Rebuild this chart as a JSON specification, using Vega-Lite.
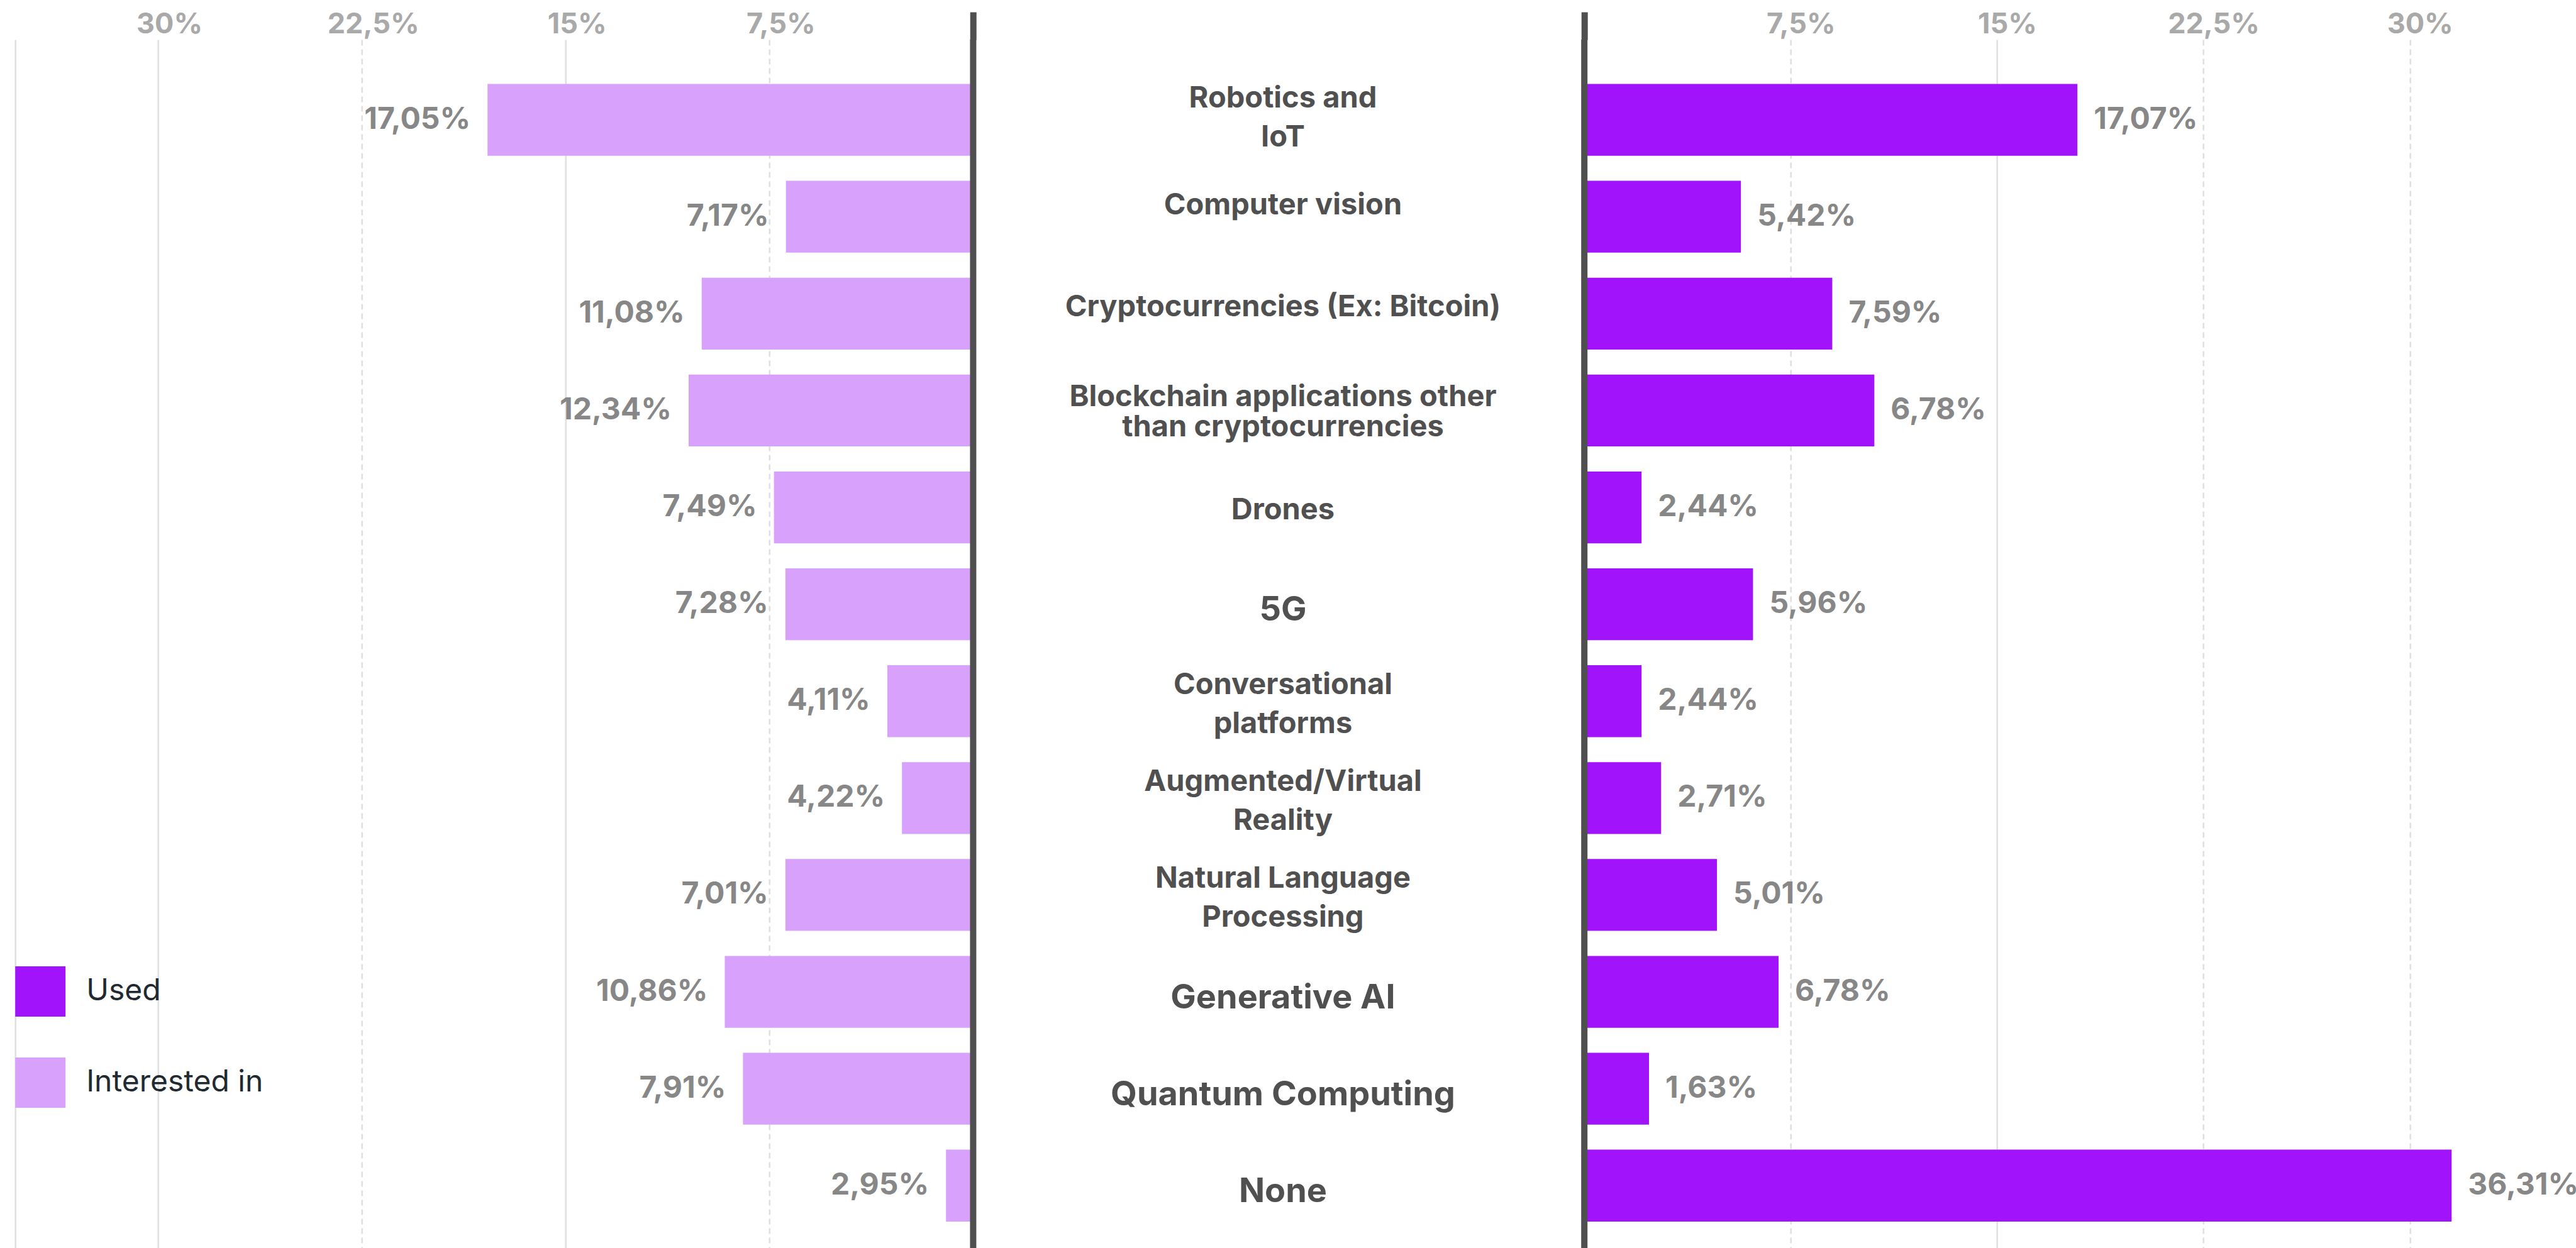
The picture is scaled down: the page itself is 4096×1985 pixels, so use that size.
{
  "$schema": "https://vega.github.io/schema/vega-lite/v6.json",
  "background": "white",
  "padding": {"left": 24.2, "top": 14, "right": 0, "bottom": 0},
  "spacing": 0,
  "bounds": "full",
  "config": {
    "view": {"stroke": null},
    "font": "Inter",
    "locale": {"number": {"decimal": ",", "thousands": ".", "grouping": [3], "currency": ["", "%"]}}
  },
  "resolve": {"scale": {"color": "independent", "x": "independent", "y": "independent"}},
  "data": {
    "values": [
      {"tech": "Robotics and\nIoT", "interested": 17.05, "used": 17.07, "interested_bar": 17.87, "used_bar": 17.92},
      {"tech": "Computer vision", "interested": 7.17, "used": 5.42, "interested_bar": 6.89, "used_bar": 5.69},
      {"tech": "Cryptocurrencies (Ex: Bitcoin)", "interested": 11.08, "used": 7.59, "interested_bar": 9.99, "used_bar": 9.01},
      {"tech": "Blockchain applications other\nthan cryptocurrencies", "interested": 12.34, "used": 6.78, "interested_bar": 10.47, "used_bar": 10.54},
      {"tech": "Drones", "interested": 7.49, "used": 2.44, "interested_bar": 7.33, "used_bar": 2.08},
      {"tech": "5G", "interested": 7.28, "used": 5.96, "interested_bar": 6.91, "used_bar": 6.13},
      {"tech": "Conversational\nplatforms", "interested": 4.11, "used": 2.44, "interested_bar": 3.16, "used_bar": 2.08},
      {"tech": "Augmented/Virtual\nReality", "interested": 4.22, "used": 2.71, "interested_bar": 2.62, "used_bar": 2.79},
      {"tech": "Natural Language\nProcessing", "interested": 7.01, "used": 5.01, "interested_bar": 6.91, "used_bar": 4.82},
      {"tech": "Generative AI", "interested": 10.86, "used": 6.78, "interested_bar": 9.14, "used_bar": 7.06},
      {"tech": "Quantum Computing", "interested": 7.91, "used": 1.63, "interested_bar": 8.47, "used_bar": 2.35},
      {"tech": "None", "interested": 2.95, "used": 36.31, "interested_bar": 1.0, "used_bar": 31.52}
    ]
  },
  "hconcat": [
    {
      "width": 1523.2,
      "height": 1924,
      "layer": [
        {
          "mark": {"type": "bar"},
          "encoding": {
            "y": {"field": "tech", "type": "nominal", "sort": null, "axis": null,
                  "scale": {"type": "band", "paddingInner": 0.2583, "paddingOuter": 0.3718, "align": 0.615}},
            "x": {"field": "interested_bar", "type": "quantitative",
                  "scale": {"domain": [0, 35.25], "reverse": true, "nice": false, "zero": true},
                  "axis": {
                    "orient": "top", "title": null,
                    "values": [0, 7.5, 15, 22.5, 30, 35.25],
                    "format": "$.1~f",
                    "labelExpr": "datum.value === 0 || datum.value > 31 ? '' : datum.label",
                    "labelFontSize": 45, "labelFontWeight": 700, "labelColor": "#a9a9a9",
                    "labelPadding": -42, "labelOffset": 18, "labelFlush": false, "labelOverlap": false, "labelBound": false,
                    "ticks": true, "tickSize": 44,
                    "tickColor": {"condition": {"test": "datum.value === 0", "value": "#4f4f4f"}, "value": "transparent"},
                    "tickWidth": {"condition": {"test": "datum.value === 0", "value": 10}, "value": 0},
                    "domain": false,
                    "grid": true, "gridColor": "#e0e0e0", "gridWidth": 2.5,
                    "gridDash": {"condition": {"test": "datum.value === 7.5 || datum.value === 22.5", "value": [9, 6]}, "value": []}
                  }},
            "color": {"datum": "Interested in",
                      "scale": {"domain": ["Used", "Interested in"], "range": ["#a113fa", "#d7a1fc"]},
                      "legend": {
                        "orient": "none", "legendX": 0, "legendY": 1474, "title": null,
                        "direction": "vertical", "padding": 0,
                        "symbolType": "square", "symbolSize": 6400, "symbolStrokeWidth": 0, "symbolOpacity": 1,
                        "labelFontSize": 48, "labelFontWeight": 400, "labelColor": "#212a31",
                        "labelOffset": 33, "rowPadding": 65, "labelLimit": 0
                      }}
          }
        },
        {
          "mark": {"type": "text", "align": "right", "baseline": "middle", "dx": -27, "fontSize": 48, "fontWeight": 700, "color": "#878787"},
          "encoding": {
            "y": {"field": "tech", "type": "nominal", "sort": null, "axis": null},
            "x": {"field": "interested_bar", "type": "quantitative"},
            "text": {"field": "interested", "type": "quantitative", "format": "$.2f"}
          }
        },
        {
          "data": {"values": [{"axis_line": 0}]},
          "mark": {"type": "rule", "color": "#4f4f4f", "strokeWidth": 10},
          "encoding": {"x": {"field": "axis_line", "type": "quantitative"}}
        }
      ]
    },
    {
      "width": 947.55,
      "height": 1924,
      "layer": [
        {
          "transform": [{"filter": {"field": "tech", "oneOf": ["Robotics and\nIoT"]}}],
          "mark": {"type": "text", "align": "center", "baseline": "middle", "lineBreak": "\n", "lineHeight": 62, "dy": -34, "fontSize": 47, "fontWeight": 700, "color": "#505050"},
          "encoding": {
            "x": {"datum": 0.5, "type": "quantitative", "scale": {"domain": [0, 1], "nice": false, "zero": false}, "axis": null},
            "y": {"field": "tech", "type": "nominal", "sort": null, "axis": null,
                  "scale": {"type": "band",
                            "domain": ["Robotics and\nIoT", "Computer vision", "Cryptocurrencies (Ex: Bitcoin)", "Blockchain applications other\nthan cryptocurrencies", "Drones", "5G", "Conversational\nplatforms", "Augmented/Virtual\nReality", "Natural Language\nProcessing", "Generative AI", "Quantum Computing", "None"],
                            "paddingInner": 0.2583, "paddingOuter": 0.3718, "align": 0.615}},
            "text": {"field": "tech", "type": "nominal"}
          }
        },
        {
          "transform": [{"filter": {"field": "tech", "oneOf": ["Computer vision"]}}],
          "mark": {"type": "text", "align": "center", "baseline": "middle", "dy": -18, "fontSize": 47, "fontWeight": 700, "color": "#505050"},
          "encoding": {
            "x": {"datum": 0.5, "type": "quantitative"},
            "y": {"field": "tech", "type": "nominal", "sort": null, "axis": null},
            "text": {"field": "tech", "type": "nominal"}
          }
        },
        {
          "transform": [{"filter": {"field": "tech", "oneOf": ["Cryptocurrencies (Ex: Bitcoin)"]}}],
          "mark": {"type": "text", "align": "center", "baseline": "middle", "dy": -10, "fontSize": 47, "fontWeight": 700, "color": "#505050"},
          "encoding": {
            "x": {"datum": 0.5, "type": "quantitative"},
            "y": {"field": "tech", "type": "nominal", "sort": null, "axis": null},
            "text": {"field": "tech", "type": "nominal"}
          }
        },
        {
          "transform": [{"filter": {"field": "tech", "oneOf": ["Blockchain applications other\nthan cryptocurrencies"]}}],
          "mark": {"type": "text", "align": "center", "baseline": "middle", "lineBreak": "\n", "lineHeight": 48, "dy": -21, "fontSize": 47, "fontWeight": 700, "color": "#505050"},
          "encoding": {
            "x": {"datum": 0.5, "type": "quantitative"},
            "y": {"field": "tech", "type": "nominal", "sort": null, "axis": null},
            "text": {"field": "tech", "type": "nominal"}
          }
        },
        {
          "transform": [{"filter": {"field": "tech", "oneOf": ["Drones"]}}],
          "mark": {"type": "text", "align": "center", "baseline": "middle", "dy": 5, "fontSize": 47, "fontWeight": 700, "color": "#505050"},
          "encoding": {
            "x": {"datum": 0.5, "type": "quantitative"},
            "y": {"field": "tech", "type": "nominal", "sort": null, "axis": null},
            "text": {"field": "tech", "type": "nominal"}
          }
        },
        {
          "transform": [{"filter": {"field": "tech", "oneOf": ["Conversational\nplatforms", "Augmented/Virtual\nReality", "Natural Language\nProcessing"]}}],
          "mark": {"type": "text", "align": "center", "baseline": "middle", "lineBreak": "\n", "lineHeight": 62, "dy": -25, "fontSize": 47, "fontWeight": 700, "color": "#505050"},
          "encoding": {
            "x": {"datum": 0.5, "type": "quantitative"},
            "y": {"field": "tech", "type": "nominal", "sort": null, "axis": null},
            "text": {"field": "tech", "type": "nominal"}
          }
        },
        {
          "transform": [{"filter": {"field": "tech", "oneOf": ["5G", "Generative AI", "Quantum Computing", "None"]}}],
          "mark": {"type": "text", "align": "center", "baseline": "middle", "dy": 10, "fontSize": 54, "fontWeight": 700, "color": "#505050"},
          "encoding": {
            "x": {"datum": 0.5, "type": "quantitative"},
            "y": {"field": "tech", "type": "nominal", "sort": null, "axis": null},
            "text": {"field": "tech", "type": "nominal"}
          }
        }
      ]
    },
    {
      "width": 1576.8,
      "height": 1924,
      "layer": [
        {
          "mark": {"type": "bar"},
          "encoding": {
            "y": {"field": "tech", "type": "nominal", "sort": null, "axis": null,
                  "scale": {"type": "band", "paddingInner": 0.2583, "paddingOuter": 0.3718, "align": 0.615}},
            "x": {"field": "used_bar", "type": "quantitative",
                  "scale": {"domain": [0, 36.04], "nice": false, "zero": true},
                  "axis": {
                    "orient": "top", "title": null,
                    "values": [0, 7.5, 15, 22.5, 30],
                    "format": "$.1~f",
                    "labelExpr": "datum.value === 0 ? '' : datum.label",
                    "labelFontSize": 45, "labelFontWeight": 700, "labelColor": "#a9a9a9",
                    "labelPadding": -42, "labelOffset": 16, "labelFlush": false, "labelOverlap": false, "labelBound": false,
                    "ticks": true, "tickSize": 44,
                    "tickColor": {"condition": {"test": "datum.value === 0", "value": "#4f4f4f"}, "value": "transparent"},
                    "tickWidth": {"condition": {"test": "datum.value === 0", "value": 10}, "value": 0},
                    "domain": false,
                    "grid": true, "gridColor": "#e0e0e0", "gridWidth": 2.5,
                    "gridDash": {"condition": {"test": "datum.value === 15 || datum.value === 0", "value": []}, "value": [9, 6]}
                  }},
            "color": {"datum": "Used",
                      "scale": {"domain": ["Used", "Interested in"], "range": ["#a113fa", "#d7a1fc"]},
                      "legend": null}
          }
        },
        {
          "mark": {"type": "text", "align": "left", "baseline": "middle", "dx": 26, "fontSize": 48, "fontWeight": 700, "color": "#878787"},
          "encoding": {
            "y": {"field": "tech", "type": "nominal", "sort": null, "axis": null},
            "x": {"field": "used_bar", "type": "quantitative"},
            "text": {"field": "used", "type": "quantitative", "format": "$.2f"}
          }
        },
        {
          "data": {"values": [{"axis_line": 0}]},
          "mark": {"type": "rule", "color": "#4f4f4f", "strokeWidth": 10},
          "encoding": {"x": {"field": "axis_line", "type": "quantitative"}}
        }
      ]
    }
  ]
}
